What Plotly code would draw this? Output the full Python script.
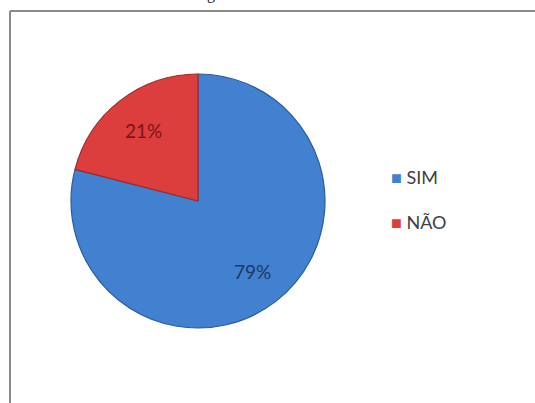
import math
import plotly.graph_objects as go

categories = ["SIM", "NÃO"]
values = [79, 21]
slice_colors = ["#4280D0", "#DC3E3E"]
edge_colors = ["#2D5C9C", "#9A2B2A"]
label_colors = ["#1B3A66", "#7A1414"]

W, H = 535, 403
cx, cy, r = 198, 201, 127

fig = go.Figure()
fig.add_trace(go.Pie(
    labels=categories,
    values=values,
    sort=False,
    direction="clockwise",
    rotation=0,
    marker=dict(colors=slice_colors, line=dict(color=edge_colors, width=1.2)),
    textinfo="none",
    domain=dict(x=[(cx - r) / W, (cx + r) / W],
                y=[(H - cy - r) / H, (H - cy + r) / H]),
    showlegend=False,
    hoverinfo="label+percent",
))

# percentage labels placed at 0.7 of the radius along each slice's mid-angle
total = sum(values)
start = 0.0
for v, col in zip(values, label_colors):
    mid = (start + v / 2) / total * 2 * math.pi
    start += v
    px = cx + 0.70 * r * math.sin(mid)
    py = cy - 0.70 * r * math.cos(mid)
    fig.add_annotation(xref="paper", yref="paper", x=px / W, y=1 - py / H,
                       xanchor="center", yanchor="middle", showarrow=False,
                       text=f"{round(v / total * 100)}%",
                       font=dict(family="Lato, Open Sans, sans-serif", size=19, color=col))

# white strip over the right edge (frame continues beyond the crop)
fig.add_shape(type="rect", xref="paper", yref="paper", layer="above",
              x0=522 / W, x1=1.02, y0=-0.02, y1=1 - 13 / H,
              line=dict(width=0), fillcolor="white")

# frame border (left/top visible, right/bottom cropped)
fig.add_shape(type="line", xref="paper", yref="paper",
              x0=10 / W, x1=10 / W, y0=0, y1=1 - 11 / H,
              line=dict(color="#8A8A8A", width=2))
fig.add_shape(type="line", xref="paper", yref="paper",
              x0=10 / W, x1=1, y0=1 - 11 / H, y1=1 - 11 / H,
              line=dict(color="#8A8A8A", width=2))

# legend built from categories
leg_y = [177, 222]
for cat, col, yy in zip(categories, slice_colors, leg_y):
    fig.add_annotation(xref="paper", yref="paper", x=389 / W, y=1 - yy / H,
                       xanchor="left", yanchor="middle", showarrow=False,
                       text=f"<span style='color:{col}'>■</span> {cat}",
                       font=dict(family="Lato, Open Sans, sans-serif", size=18, color="#404040"))

# cropped title fragment at top
fig.add_annotation(xref="paper", yref="paper", x=211 / W, y=1, xanchor="center",
                   yanchor="bottom", yshift=-5, showarrow=False, text="g",
                   font=dict(family="Liberation Serif, serif", size=16, color="#222222"))

fig.update_layout(width=W, height=H, margin=dict(l=0, r=0, t=0, b=0),
                  paper_bgcolor="white", plot_bgcolor="white")
fig.write_html("out.html", config={"displayModeBar": False})
